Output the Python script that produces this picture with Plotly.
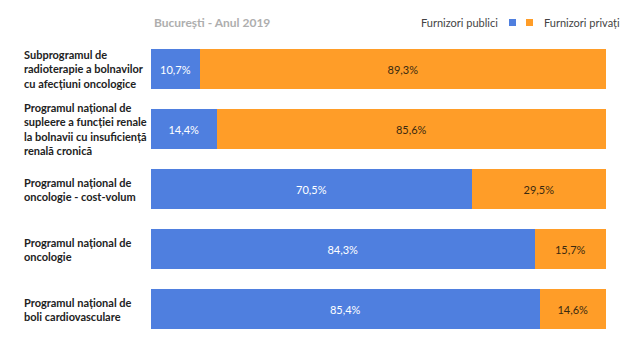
import plotly.graph_objects as go

categories = [
    "Subprogramul de<br>radioterapie a bolnavilor<br>cu afecțiuni oncologice",
    "Programul național de<br>supleere a funcției renale<br>la bolnavii cu insuficiență<br>renală cronică",
    "Programul național de<br>oncologie - cost-volum",
    "Programul național de<br>oncologie",
    "Programul național de<br>boli cardiovasculare",
]
publici = [10.7, 14.4, 70.5, 84.3, 85.4]
privati = [89.3, 85.6, 29.5, 15.7, 14.6]
series_names = ["Furnizori publici", "Furnizori privați"]
title_text = "București - Anul 2019"

BLUE = "#4F7FDF"
ORANGE = "#FF9D28"
FONT = "Lato"

def fmt(v):
    return f"{v:.1f}".replace(".", ",") + "%"

ids = list(range(len(categories)))

fig = go.Figure()
fig.add_trace(go.Bar(
    y=ids, x=publici, orientation="h", name=series_names[0],
    marker=dict(color=BLUE, line=dict(width=0)),
    text=[fmt(v) for v in publici], textposition="inside",
    insidetextanchor="middle", textangle=0,
    textfont=dict(color="white", size=11, family=FONT),
    hoverinfo="skip",
))
fig.add_trace(go.Bar(
    y=ids, x=privati, orientation="h", name=series_names[1],
    marker=dict(color=ORANGE, line=dict(width=0)),
    text=[fmt(v) for v in privati], textposition="inside",
    insidetextanchor="middle", textangle=0,
    textfont=dict(color="#3a2a10", size=11, family=FONT),
    hoverinfo="skip",
))

# page has an 8px body margin; work in page pixel coords minus offset
OFF = 8
W, H = 634 - OFF, 359 - OFF
L = 151 - OFF
T = 39 - OFF
R = W - (606 - OFF)
B = H - (339 - OFF)
pw = W - L - R
ph = H - T - B

def py(ypix):
    return 1 + (T - (ypix - OFF)) / ph

def px(xpix):
    return ((xpix - OFF) - L) / pw

annotations = []
for i, c in enumerate(categories):
    annotations.append(dict(
        x=px(22), xref="paper", y=i, yref="y",
        text="<b>" + c + "</b>", showarrow=False,
        xanchor="left", yanchor="middle", align="left",
        font=dict(size=11, color="#222222", family=FONT),
    ))

annotations.append(dict(
    x=px(152), xref="paper", y=py(22), yref="paper", text="<b>" + title_text + "</b>",
    showarrow=False, xanchor="left", yanchor="middle",
    font=dict(size=12, color="#AEAEAE", family=FONT),
))
annotations.append(dict(
    x=px(500), xref="paper", y=py(22), yref="paper", text=series_names[0],
    showarrow=False, xanchor="right", yanchor="middle",
    font=dict(size=11, color="#444444", family=FONT),
))
annotations.append(dict(
    x=px(542), xref="paper", y=py(22), yref="paper", text=series_names[1],
    showarrow=False, xanchor="left", yanchor="middle",
    font=dict(size=11, color="#444444", family=FONT),
))

shapes = [
    dict(type="rect", xref="paper", yref="paper",
         x0=px(509), x1=px(516), y0=py(26), y1=py(19),
         fillcolor=BLUE, line=dict(width=0)),
    dict(type="rect", xref="paper", yref="paper",
         x0=px(526), x1=px(533), y0=py(26), y1=py(19),
         fillcolor=ORANGE, line=dict(width=0)),
]

fig.update_layout(
    width=W, height=H,
    margin=dict(l=L, r=R, t=T, b=B),
    barmode="stack", bargap=1/3,
    showlegend=False,
    paper_bgcolor="white", plot_bgcolor="white",
    xaxis=dict(range=[0, 100], visible=False, fixedrange=True),
    yaxis=dict(range=[len(categories) - 0.5, -0.5], visible=False, fixedrange=True),
    annotations=annotations, shapes=shapes,
    font=dict(family=FONT),
)

fig.write_html("out.html", config={"displayModeBar": False})
